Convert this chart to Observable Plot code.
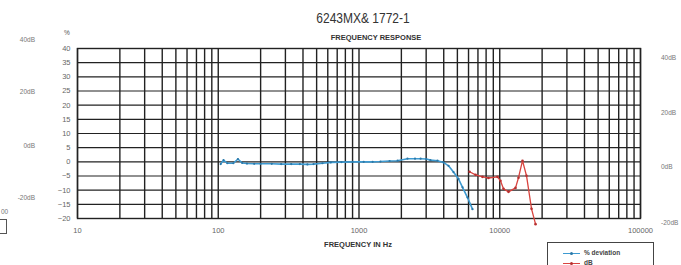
<!DOCTYPE html>
<html>
<head>
<meta charset="utf-8">
<script src="https://cdn.jsdelivr.net/npm/d3@7"></script>
<script src="https://cdn.jsdelivr.net/npm/@observablehq/plot@0.6"></script>
<style>
  html, body { margin: 0; padding: 0; background: #fff; }
  #wrap { position: relative; width: 681px; height: 265px; overflow: hidden; font-family: "Liberation Sans", Arial, sans-serif; color: #555; }
  #chart { position: absolute; left: 0; top: 0; }
  .lbl { position: absolute; white-space: nowrap; line-height: 1; }
  .t { font-family: "Liberation Sans", Arial, sans-serif; font-size: 15px; color: #333; }
  .st { font-size: 7.5px; font-weight: bold; color: #333; }
  .db { font-size: 6.5px; color: #777; }
  .leg { position: absolute; left: 547px; top: 242px; width: 107px; height: 30px; border: 1px solid #444; box-sizing: border-box; background: #fff; }
  .leg .row { position: absolute; left: 15px; font-size: 6.5px; font-weight: bold; color: #444; }
  .leg .sw { display: inline-block; width: 17px; height: 1.3px; vertical-align: middle; margin-right: 4px; position: relative; }
  .leg .sw i { position: absolute; left: 7px; top: -1px; width: 3px; height: 3px; border-radius: 50%; }
</style>
</head>
<body>
<div id="wrap">
  <div id="chart"></div>
</div>
<script>
// ---- data ----
const yTicks = [-20, -15, -10, -5, 0, 5, 10, 15, 20, 25, 30, 35, 40];
const xTickLabels = [10, 100, 1000, 10000, 100000];
const gridX = [];
for (const dec of [10, 100, 1000, 10000]) for (let k = 1; k <= 9; k++) gridX.push(dec * k);
gridX.push(100000);

// % deviation (blue)
const devFreq = [104, 109, 116, 128, 138, 148, 160, 180, 200, 240, 280, 330, 380, 430, 475, 550, 630, 750, 900, 1080, 1250, 1420, 1650, 1880, 2210, 2500, 2740, 3000, 3220, 3610, 3985, 4325, 4690, 5090, 5440, 5900, 6400];
const devVal  = [-0.8, 0.6, -0.5, -0.5, 1.0, -0.4, -0.6, -0.7, -0.7, -0.7, -0.8, -0.8, -0.8, -0.9, -0.8, -0.5, -0.2, -0.1, 0, 0, 0, 0.1, 0.3, 0.4, 1.1, 1.1, 1.1, 1.0, 0.6, 0.4, -0.2, -1.4, -3.6, -6.0, -9.0, -12.6, -16.7];

// dB (red)
const dbFreq = [6100, 6730, 7540, 8310, 9640, 10120, 10630, 11540, 12940, 13590, 14510, 15490, 16820, 17960];
const dbVal  = [-3.5, -4.6, -5.3, -5.7, -5.3, -6.7, -9.5, -10.6, -9.2, -5.6, 0.4, -4.9, -16.6, -22];

const dbLabelsLeft = ["40dB", "20dB", "0dB", "-20dB"];
const dbLabelsRight = ["40dB", "20dB", "0dB", "-20dB"];

const dev = devFreq.map((f, i) => ({f, v: devVal[i]}));
const db = dbFreq.map((f, i) => ({f, v: dbVal[i]}));

const BLUE = "#3d9ad1", RED = "#d9443f", GRID = "#222";

const chart = Plot.plot({
  width: 681, height: 265,
  marginLeft: 77, marginRight: 41, marginTop: 48, marginBottom: 47,
  style: {fontFamily: "Liberation Sans, Arial, sans-serif", fontSize: "7.5px", color: "#666", background: "transparent"},
  x: {type: "log", domain: [10, 100000]},
  y: {domain: [-20, 40]},
  marks: [
    Plot.ruleX(gridX, {stroke: GRID, strokeWidth: 1.4}),
    Plot.ruleY(yTicks, {stroke: GRID, strokeWidth: 1.1}),
    Plot.frame({stroke: GRID, strokeWidth: 1.4}),
    Plot.axisX({ticks: xTickLabels, tickFormat: d => String(d), tickSize: 0, tickPadding: 9, label: null}),
    Plot.axisY({ticks: yTicks, tickSize: 0, tickPadding: 7, label: null}),
    Plot.line(dev, {x: "f", y: "v", stroke: BLUE, strokeWidth: 1.6}),
    Plot.dot(dev, {x: "f", y: "v", r: 1.1, fill: "#2b78a8"}),
    Plot.line(db, {x: "f", y: "v", stroke: RED, strokeWidth: 1.3}),
    Plot.dot(db, {x: "f", y: "v", r: 1.3, fill: "#b83030"})
  ]
});
document.getElementById("chart").appendChild(chart);

// ---- surrounding text ----
const wrap = document.getElementById("wrap");
function lbl(text, cls, left, top, anchor, sx) {
  const d = document.createElement("div");
  d.className = "lbl " + cls;
  d.textContent = text;
  d.style.left = left + "px";
  d.style.top = top + "px";
  const s = sx ? " scaleX(" + sx + ")" : "";
  if (anchor === "middle") d.style.transform = "translate(-50%, -50%)" + s;
  else if (anchor === "end") d.style.transform = "translate(-100%, -50%)" + s;
  else d.style.transform = "translate(0, -50%)" + s;
  wrap.appendChild(d);
  return d;
}
lbl("6243MX& 1772-1", "t", 363, 17, "middle", 0.8);
lbl("FREQUENCY RESPONSE", "st", 376, 38, "middle");
lbl("FREQUENCY IN Hz", "st", 358, 245, "middle");
lbl("%", "db", 64, 33, "start").style.color = "#555";
const leftY = [40, 92, 146, 198];
dbLabelsLeft.forEach((t, i) => lbl(t, "db", 35, leftY[i], "end"));
const rightY = [58, 113, 167, 223];
dbLabelsRight.forEach((t, i) => lbl(t, "db", 661, rightY[i], "start"));
lbl("00", "db", 1, 212, "start");
const frag = document.createElement("div");
frag.style.cssText = "position:absolute;left:-4px;top:219px;width:9px;height:13px;border:1px solid #555;";
wrap.appendChild(frag);

// legend
const leg = document.createElement("div");
leg.className = "leg";
leg.innerHTML =
  '<div class="row" style="top:6px"><span class="sw" style="background:' + BLUE + '"><i style="background:#2b78a8"></i></span>% deviation</div>' +
  '<div class="row" style="top:16px"><span class="sw" style="background:' + RED + '"><i style="background:#b83030"></i></span>dB</div>';
wrap.appendChild(leg);
</script>
</body>
</html>
